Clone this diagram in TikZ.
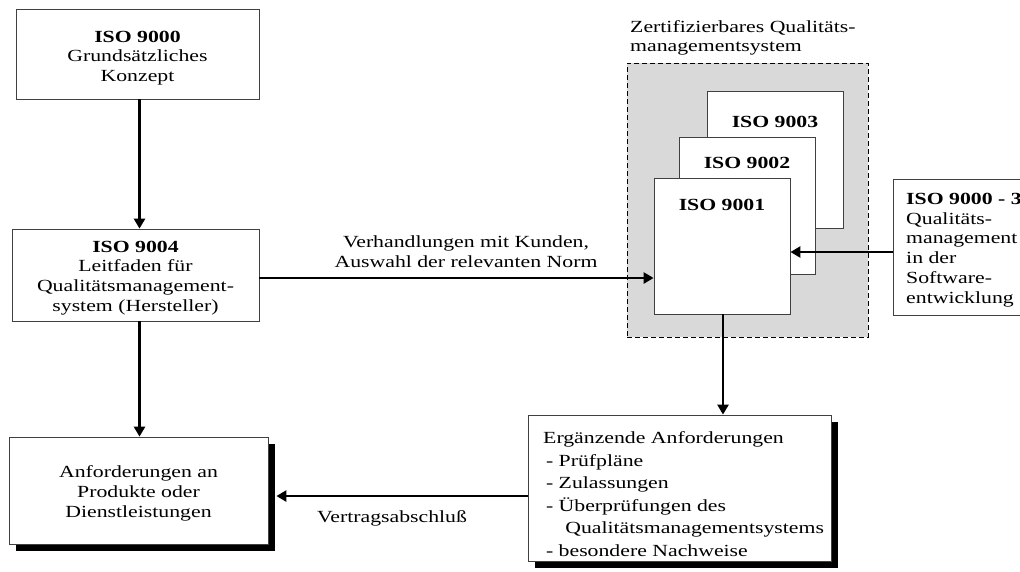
\documentclass[tikz,border=0pt]{standalone}
\usepackage{fontspec}
\setmainfont[FakeStretch=1.28]{Liberation Serif}
\usetikzlibrary{arrows.meta,shadows}
\begin{document}
\begin{tikzpicture}[x=1pt,y=-1pt,
  box/.style={draw=black!75,line width=0.8pt,fill=white,inner sep=0pt},
  txt/.style={font=\fontsize{17}{19.7}\selectfont,align=center,inner sep=0pt},
  arr/.style={line width=2.6pt,-{Triangle[length=10pt,width=11pt]}},
  shad/.style={drop shadow={shadow xshift=7pt,shadow yshift=-7pt,opacity=1,fill=black}},
  isolbl/.style={font=\fontsize{17}{19.7}\selectfont\bfseries,inner sep=0pt}]
\clip (0,0) rectangle (1020,571);
\fill[white] (0,0) rectangle (1020,571);

% left column
\node[box,minimum width=243pt,minimum height=90pt] (A) at (137.5,54) {};
\node[txt] (At) at ([yshift=-4pt]A.center) {\textbf{ISO 9000}\\Grundsätzliches\\Konzept};
\node[box,minimum width=247pt,minimum height=92pt] (B) at (135.5,275) {};
\node[txt] (Bt) at ([yshift=-3pt]B.center)
  {\textbf{ISO 9004}\\Leitfaden für\\Qualitätsmanagement-\\system (Hersteller)};
\node[box,shad,minimum width=259pt,minimum height=107pt] (C) at (138.5,490.5) {};
\node[txt] (Ct) at ([yshift=-3pt]C.center) {Anforderungen an\\Produkte oder\\Dienstleistungen};

% certifiable system
\node[txt,align=left,anchor=north west] (title) at (630,20)
  {Zertifizierbares Qualitäts-\\managementsystem};
\node[draw=black,line width=0.8pt,dash pattern=on 5pt off 3pt,fill=black!15,
  minimum width=241pt,minimum height=274pt,inner sep=0pt] (cert) at (747.5,200) {};
\node[box,minimum width=136pt,minimum height=137pt] (i3) at (775,159.5) {};
\node[box,minimum width=136pt,minimum height=137pt] (i2) at (747,205.5) {};
\node[box,minimum width=136pt,minimum height=136pt] (i1) at (722,246) {};
\node[isolbl] (l3) at ([yshift=-31pt]i3.north) {ISO 9003};
\node[isolbl] (l2) at ([yshift=-26pt]i2.north) {ISO 9002};
\node[isolbl] (l1) at ([yshift=-27pt]i1.north) {ISO 9001};

% ISO 9000-3
\node[box,anchor=west,minimum width=160pt,minimum height=136pt] (s3) at (893,247) {};
\node[txt,align=left,anchor=west] (s3t) at (906,250)
  {\textbf{ISO 9000 - 3}\\Qualitäts-\\management\\in der\\Software-\\entwicklung};

% supplementary requirements
\node[box,shad,minimum width=303pt,minimum height=146pt] (D) at (679.5,488) {};
\node[font=\fontsize{17}{22.5}\selectfont,align=left,inner sep=0pt,anchor=west] (Dt) at (543,494)
  {Ergänzende Anforderungen\\
   \,- Prüfpläne\\
   \,- Zulassungen\\
   \,- Überprüfungen des\\
   \hspace*{1.3em}Qualitätsmanagementsystems\\
   \,- besondere Nachweise};

% labels
\node[txt] (verh) at (466,252) {Verhandlungen mit Kunden,\\Auswahl der relevanten Norm};
\node[txt] (vert) at (392,518) {Vertragsabschluß};

% arrows
\draw[arr] ([xshift=2pt]A.south) -- ([xshift=2pt]A.south |- B.north);
\draw[arr] ([xshift=4pt]B.south) -- ([xshift=4pt]B.south |- C.north);
\coordinate (be) at ([yshift=-3pt]B.east);
\draw[arr] (be) -- (be -| i1.west);
\coordinate (sw) at ([yshift=-5pt]s3.west);
\draw[arr] (sw) -- (sw -| i1.east);
\draw[arr] ([xshift=1pt]i1.south) -- ([xshift=1pt]i1.south |- D.north);
\coordinate (dw) at ([yshift=-8pt]D.west);
\coordinate (ce) at ([xshift=8pt]C.east);
\draw[arr] (dw) -- (dw -| ce);
\end{tikzpicture}
\end{document}
